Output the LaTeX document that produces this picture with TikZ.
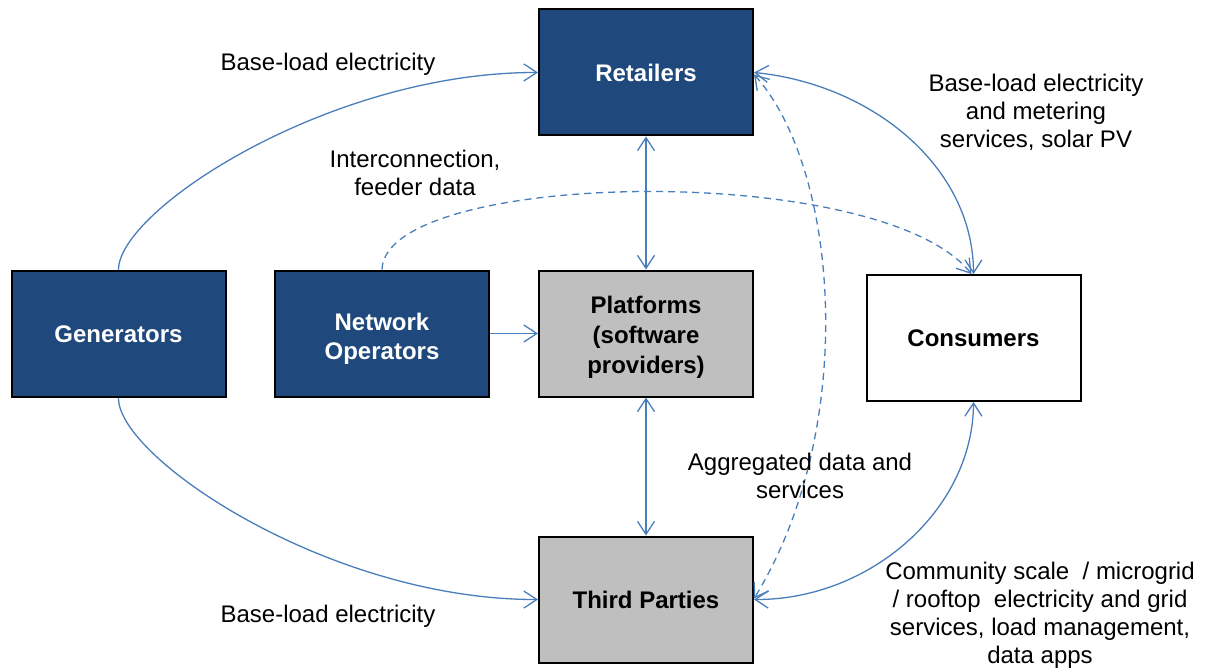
\documentclass[tikz,border=0pt]{standalone}
\usepackage{fontspec}
\setmainfont{Liberation Sans}
\usetikzlibrary{arrows.meta}
\definecolor{navy}{HTML}{1F497D}
\definecolor{boxgray}{HTML}{BFBFBF}
\definecolor{linkblue}{HTML}{4A7EBB}
\begin{document}
\begin{tikzpicture}[x=1pt,y=-1pt,
  box/.style={draw=black, line width=2pt, minimum width=214pt, minimum height=126pt,
    font=\fontsize{24}{30}\selectfont\bfseries, align=center, inner sep=0pt},
  dark/.style={box, fill=navy, text=white},
  grey/.style={box, fill=boxgray},
  plain/.style={box, fill=white},
  tip/.tip={Straight Barb[length=13pt,width=17pt]},
  conn/.style={draw=linkblue, line width=1.3pt, -tip},
  both/.style={draw=linkblue, line width=1.3pt, tip-tip},
  dashedlink/.style={dash pattern=on 7pt off 5pt},
  lbl/.style={font=\fontsize{24}{28}\selectfont, align=center, inner sep=0pt}]
\useasboundingbox (0,0) rectangle (1206,668);

\node[dark]  (ret)   at (646,72.5)  {Retailers};
\node[dark]  (gen)   at (118.5,334) {Generators};
\node[dark]  (net)   at (382,333.5) {\rule{0pt}{27pt}Network\\[-1pt]Operators};
\node[grey]  (plat)  at (646,333.5) {\rule{0pt}{24pt}Platforms\\(software\\providers)};
\node[plain] (cons)  at (973.5,338) {Consumers};
\node[grey]  (third) at (646,599.5) {Third Parties};

\draw[conn] (gen.north) .. controls (118,210) and (330,72) .. (ret.west);
\draw[conn] (gen.south) .. controls (118,458) and (330,600) .. (third.west);
\draw[conn] (net.east) -- (plat.west);
\draw[both] (ret.south) -- (plat.north);
\draw[both] (plat.south) -- (third.north);
\draw[both] (ret.east) .. controls (870,84) and (973,165) .. (cons.north);
\draw[both] (cons.south) .. controls (973,510) and (870,600) .. (third.east);
\draw[conn,dashedlink] (net.north) .. controls (385,170) and (880,160) .. ([xshift=-2pt]cons.north);
\draw[both,dashedlink] ([yshift=-2pt]ret.east) .. controls (840,170) and (858,430) .. ([yshift=1pt]third.east);

\node[lbl] (l1) at (328,64) {Base-load electricity};
\node[lbl] (l2) at (328,616) {Base-load electricity};
\node[lbl] (l3) at (415,173) {Interconnection,\\feeder data};
\node[lbl] (l4) at (1036,112) {Base-load electricity\\and metering\\services, solar PV};
\node[lbl] (l5) at (800,476) {Aggregated data and\\services};
\node[lbl] (l6) at (1040,615) {Community scale~ / microgrid\\/ rooftop~ electricity and grid\\services, load management,\\data apps};
\end{tikzpicture}
\end{document}
